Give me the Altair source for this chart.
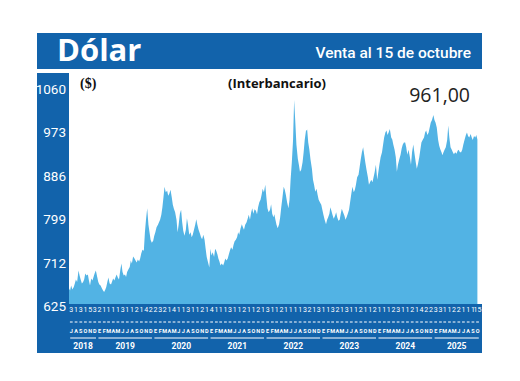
import altair as alt
import pandas as pd

# ---------------- data ----------------
# interbank dollar, ~weekly readings (days 1, 8, 15, 23 of each month), Jul 2018 - 15 Oct 2025
y2018 = [662, 658, 668, 660, 665, 672, 680, 675, 698, 688, 680, 672,
         675, 680, 692, 688, 690, 678, 668, 682, 678, 685, 692, 698]
y2019 = [685, 675, 670, 668, 662, 658, 655, 660, 665, 675, 684, 672,
         670, 676, 682, 678, 685, 690, 684, 680, 700, 712, 695, 688,
         690, 685, 695, 700, 705, 718, 712, 726, 722, 718, 714, 720,
         716, 722, 732, 740, 738, 775, 800, 823, 790, 775, 760, 754]
y2020 = [758, 768, 775, 785, 790, 795, 800, 810, 825, 845, 866, 855,
         858, 848, 852, 860, 845, 830, 822, 815, 800, 775, 790, 812,
         820, 795, 778, 768, 780, 803, 790, 770, 775, 765, 770, 780,
         790, 801, 790, 780, 772, 765, 761, 770, 760, 742, 725, 715]
y2021 = [704, 742, 728, 735, 725, 742, 738, 730, 722, 716, 708, 712,
         708, 714, 722, 718, 722, 730, 738, 745, 740, 750, 757, 760,
         765, 775, 770, 782, 791, 785, 780, 790, 795, 802, 810, 800,
         815, 823, 812, 821, 818, 811, 825, 835, 840, 850, 862, 855]
y2022 = [870, 845, 823, 815, 820, 831, 812, 805, 811, 800, 790, 783,
         791, 805, 825, 845, 866, 860, 850, 835, 823, 840, 880, 915,
         960, 1040, 1000, 950, 922, 910, 896, 900, 915, 935, 960, 978,
         981, 955, 941, 920, 902, 880, 870, 856, 862, 850, 840, 835]
y2023 = [830, 820, 810, 800, 791, 800, 805, 812, 825, 818, 810, 802,
         808, 815, 805, 798, 800, 812, 822, 815, 808, 800, 805, 812,
         820, 835, 850, 866, 855, 860, 870, 885, 890, 905, 920, 935,
         945, 930, 915, 900, 885, 870, 875, 880, 875, 885, 895, 910]
y2024 = [880, 895, 910, 925, 935, 950, 965, 975, 979, 970, 975, 982,
         965, 961, 950, 940, 925, 896, 910, 920, 930, 942, 950, 955,
         955, 945, 930, 940, 925, 910, 935, 951, 930, 915, 902, 912,
         925, 940, 955, 960, 965, 975, 979, 970, 975, 985, 995, 1000]
y2025 = [1010, 1000, 995, 985, 960, 948, 941, 935, 929, 935, 940, 945,
         960, 989, 965, 945, 940, 935, 931, 935, 932, 938, 940, 935,
         935, 940, 950, 960, 970, 975, 968, 965, 972, 965, 960, 968,
         965, 970, 961]

years = [2018, 2019, 2020, 2021, 2022, 2023, 2024, 2025]
first_month = {2018: 7}
reading_days = [1, 8, 15, 23]
y_ticks = [1060, 973, 886, 799, 712, 625]
month_letters = ["E", "F", "M", "A", "M", "J", "J", "A", "S", "O", "N", "D"]
top_digits = ["3", "1", "3", "1", "5", "3", "2", "1", "1", "1", "1", "3", "1", "1", "2",
              "1", "4", "2", "2", "3", "2", "1", "4", "1", "1", "3", "1", "1", "2", "1",
              "4", "1", "1", "1", "3", "1", "1", "2", "1", "1", "2", "1", "3",
              "1", "1", "2", "1", "1", "1", "1", "3", "2", "1", "3", "1", "1", "3", "2",
              "1", "3", "1", "1", "2", "1", "1", "2", "1", "1", "1", "2", "3", "1", "1",
              "2", "1", "4", "2", "2", "3", "3", "1", "1", "2", "2", "1", "1", "1", "15"]
last_value_label = "961,00"

series = {2018: y2018, 2019: y2019, 2020: y2020, 2021: y2021,
          2022: y2022, 2023: y2023, 2024: y2024, 2025: y2025}

rows = []
for yr in years:
    vals = series[yr]
    m0 = first_month.get(yr, 1)
    for i, v in enumerate(vals):
        rows.append({"date": pd.Timestamp(yr, m0 + i // 4, reading_days[i % 4]), "v": v})
df = pd.DataFrame(rows)

# month table
months = pd.date_range("2018-07-01", "2025-10-01", freq="MS")
mdf = pd.DataFrame({
    "mid": months + pd.Timedelta(days=15),
    "d0": months + pd.Timedelta(days=6),
    "d1": months + pd.Timedelta(days=24),
    "letter": [month_letters[m.month - 1] for m in months],
    "digit": top_digits,
})

# year table
yrows = []
for yr in years:
    s = pd.Timestamp(yr, first_month.get(yr, 1), 1)
    e = pd.Timestamp(2025, 11, 1) if yr == 2025 else pd.Timestamp(yr + 1, 1, 1)
    yrows.append({"year": str(yr), "s": s + pd.Timedelta(days=8), "e": e - pd.Timedelta(days=8),
                  "mid": s + (e - s) / 2})
ydf = pd.DataFrame(yrows)

# ---------------- style ----------------
BLUE = "#1263ab"
AREA = "#52b3e4"
NARROW = "Roboto"

xs = alt.Scale(domain=[alt.DateTime(year=2018, month=7, date=1),
                       alt.DateTime(year=2025, month=11, date=1)], range=[61, 472])
ys = alt.Scale(domain=[625, 1060], range=[299, 82], zero=False, nice=False)

one = alt.Data(values=[{"k": 1}])


def box(x, x2, y, y2):
    return alt.Chart(one).mark_rect(color=BLUE).encode(
        x=alt.value(x), x2=alt.value(x2), y=alt.value(y), y2=alt.value(y2))


def label(txt, x, y, **kw):
    return alt.Chart(one).mark_text(text=txt, **kw).encode(x=alt.value(x), y=alt.value(y))


header = box(29, 474, 25, 61)
left_band = box(29, 61, 65, 345)
bottom_band = box(29, 474, 296, 345)

area = alt.Chart(df).mark_area(color=AREA, interpolate="linear").encode(
    x=alt.X("date:T", scale=xs, axis=None),
    y=alt.Y("v:Q", scale=ys, axis=None),
    y2=alt.datum(625),
)

ylab = alt.Chart(pd.DataFrame({"t": y_ticks})).mark_text(
    align="right", baseline="middle", color="white", font=NARROW, fontSize=13.5
).encode(y=alt.Y("t:Q", scale=ys, axis=None), x=alt.value(58), text="t:Q")

digits = alt.Chart(mdf).mark_text(
    align="center", baseline="middle", color="white", font=NARROW, fontSize=7
).encode(x=alt.X("mid:T", scale=xs, axis=None), y=alt.value(302), text="digit:N")

dashes = alt.Chart(mdf).mark_rule(color="white", strokeWidth=1).encode(
    x=alt.X("d0:T", scale=xs, axis=None), x2="d1:T", y=alt.value(314))

mletters = alt.Chart(mdf).mark_text(
    align="center", baseline="middle", color="white", font=NARROW, fontSize=5.5, fontWeight="bold"
).encode(x=alt.X("mid:T", scale=xs, axis=None), y=alt.value(323), text="letter:N")

ylines = alt.Chart(ydf).mark_rule(color="white", strokeWidth=1).encode(
    x=alt.X("s:T", scale=xs, axis=None), x2="e:T", y=alt.value(330))

ytext = alt.Chart(ydf).mark_text(
    align="center", baseline="middle", color="white", font=NARROW, fontSize=8.5, fontWeight="bold"
).encode(x=alt.X("mid:T", scale=xs, axis=None), y=alt.value(338), text="year:N")

title = label("Dólar", 49, 44, font="Open Sans", fontSize=31, fontWeight="bold",
              color="white", align="left", baseline="middle")
subtitle = label("Venta al 15 de octubre", 463, 45, font=NARROW, fontSize=15.5, fontWeight=500,
                 color="white", align="right", baseline="middle")
unit = label("($)", 72, 76, font="Liberation Serif", fontSize=14, fontWeight="bold",
             color="#111", align="left", baseline="middle")
sub2 = label("(Interbancario)", 220, 76, font="Open Sans", fontSize=13, fontWeight="bold",
             color="#111", align="left", baseline="middle")
last = label(last_value_label, 462, 88, font="Open Sans", fontSize=19.5,
             color="#222", align="right", baseline="middle")

chart = alt.layer(
    header, left_band, area, bottom_band, ylab, digits, dashes, mletters, ylines, ytext,
    title, subtitle, unit, sub2, last
).properties(
    width=504, height=365, padding=0,
    autosize=alt.AutoSizeParams(type="none"),
).configure_view(stroke=None)

chart.save("out.html", embed_options={"renderer": "svg", "actions": False})
